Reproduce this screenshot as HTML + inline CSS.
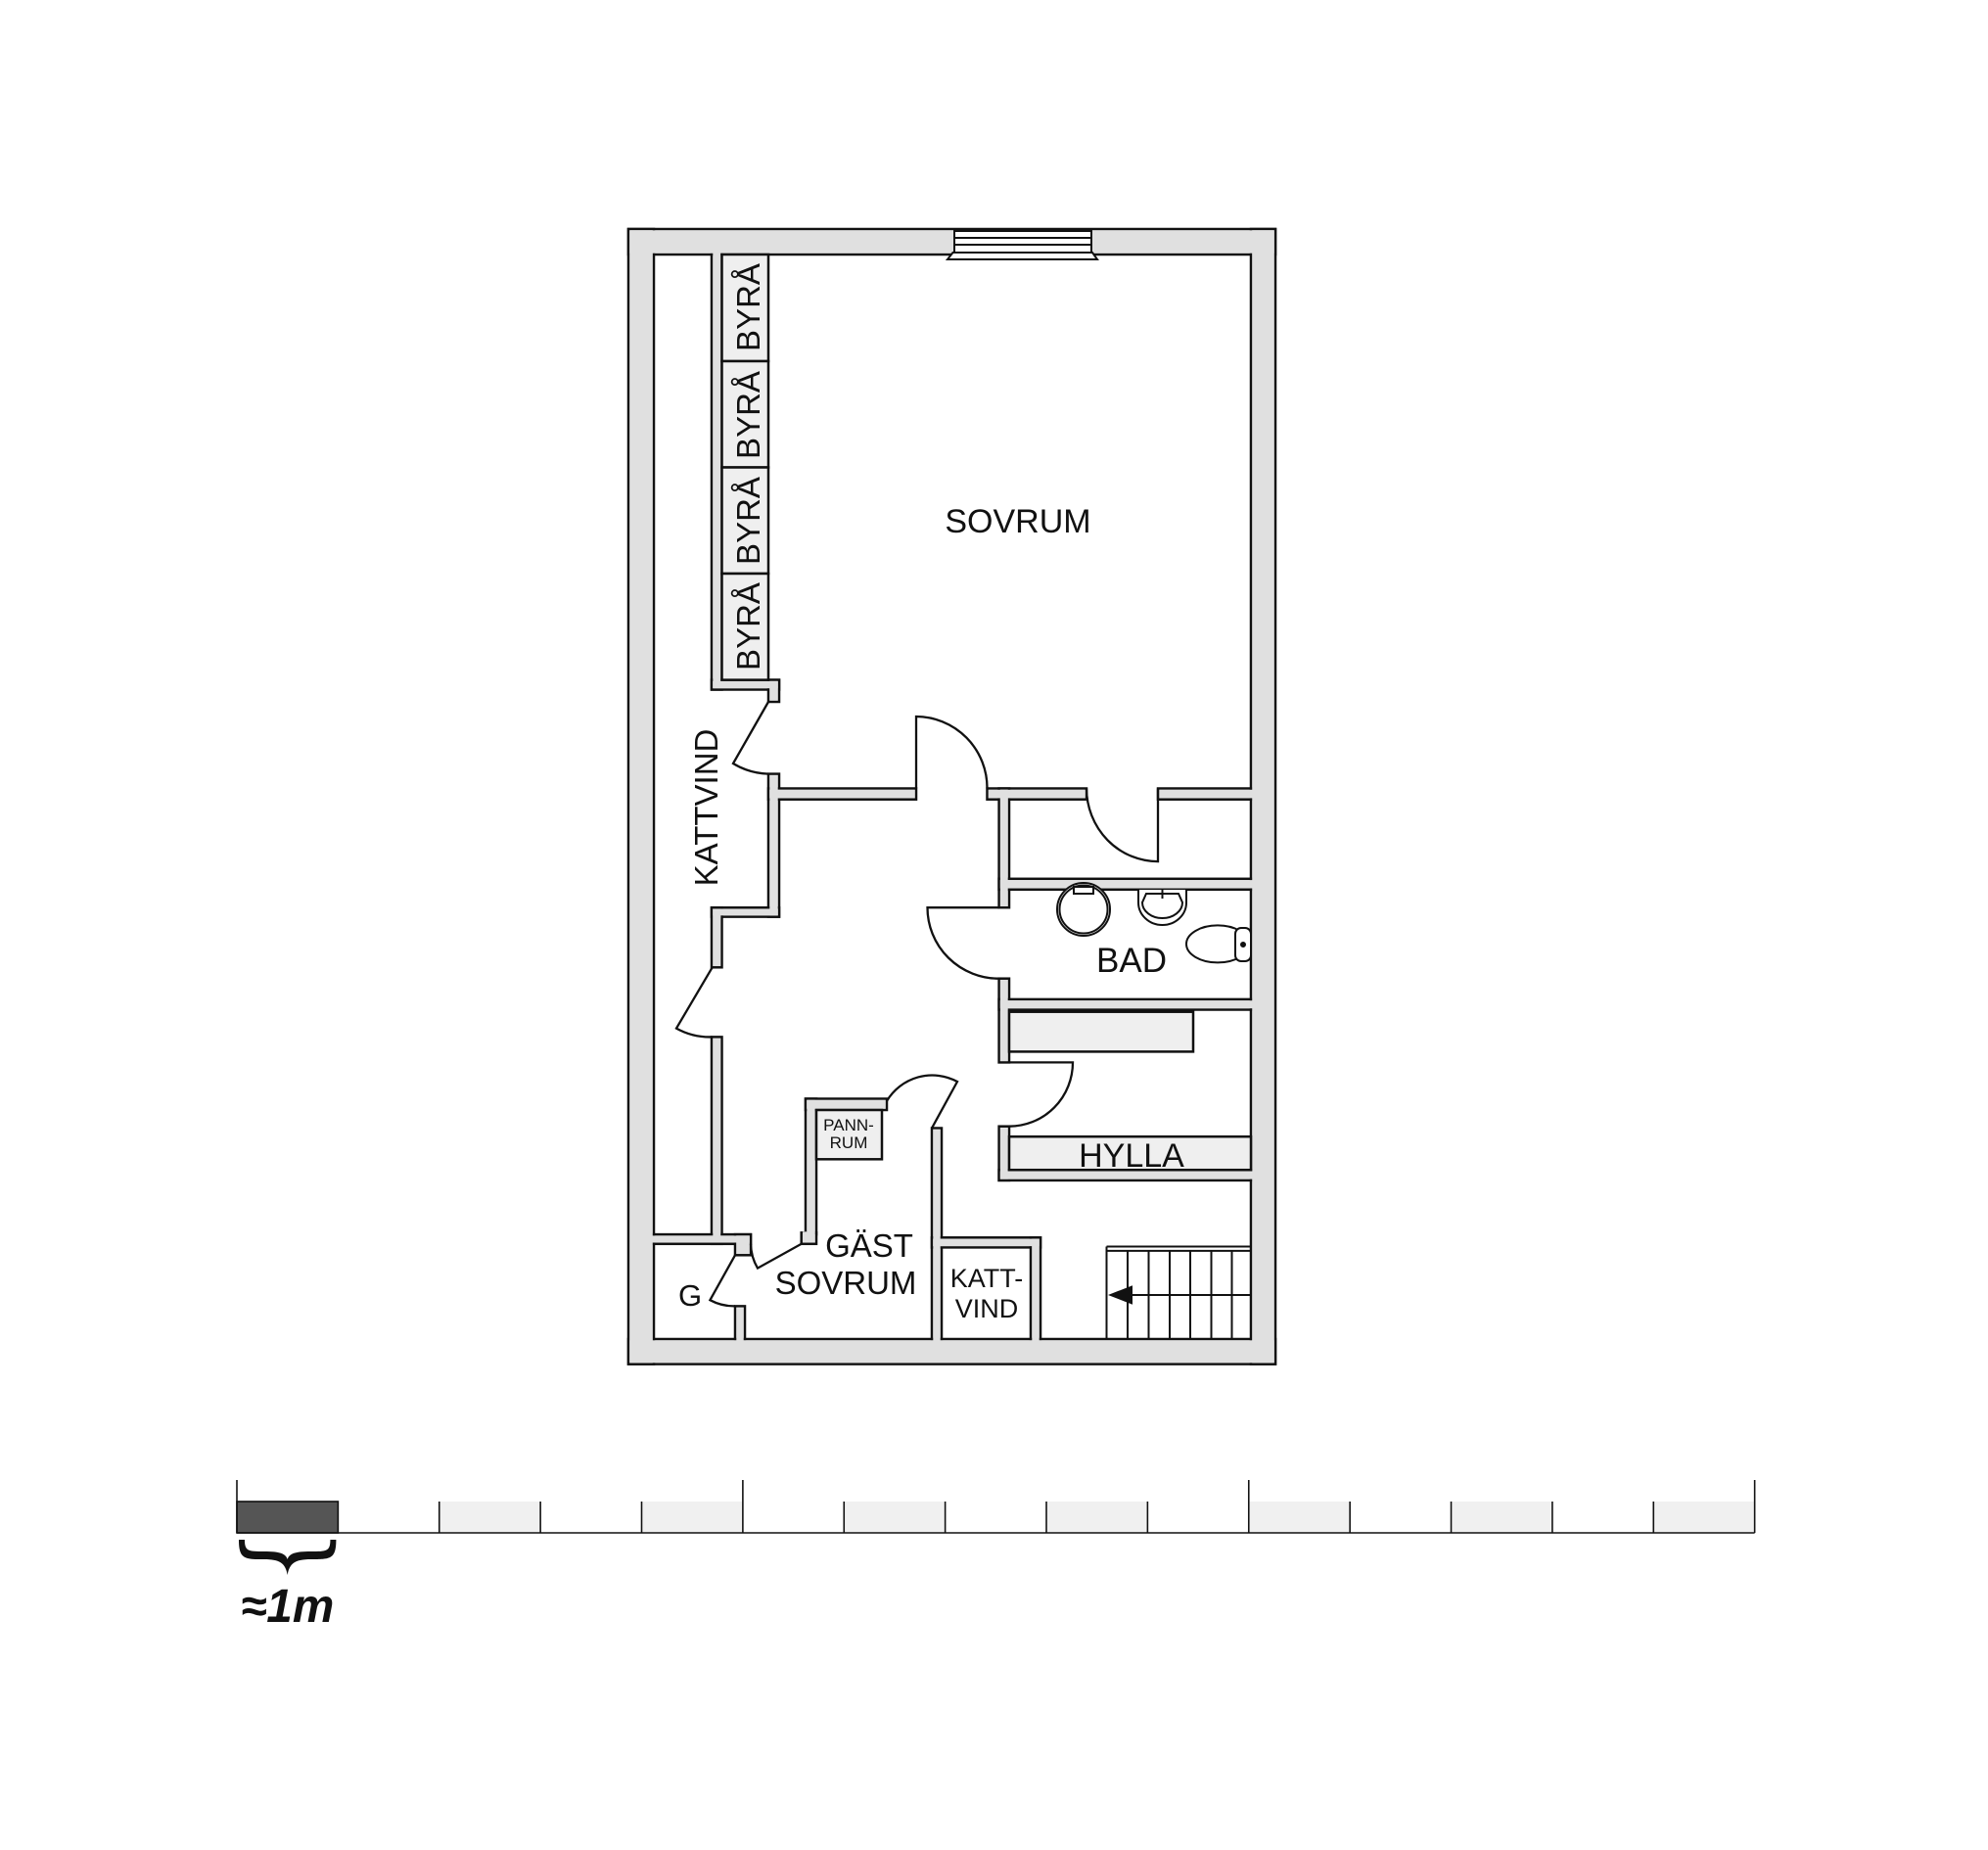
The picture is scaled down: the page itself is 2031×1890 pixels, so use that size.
<!DOCTYPE html>
<html><head><meta charset="utf-8"><style>
html,body{margin:0;padding:0;background:#fff}
svg{display:block}
text{font-family:"Liberation Sans",sans-serif;fill:#111}
</style></head><body>
<svg width="2031" height="1890" viewBox="0 0 2031 1890" xmlns="http://www.w3.org/2000/svg">
<rect x="0" y="0" width="2031" height="1890" fill="#fff"/>
<rect x="668" y="260" width="610" height="1108" fill="#fff"/>
<g fill="#e0e0e0" stroke="#111" stroke-width="2.5">
<rect x="642" y="234" width="661" height="26"/>
<rect x="642" y="1368" width="661" height="25.6"/>
<rect x="642" y="234" width="26" height="1159.6"/>
<rect x="1278" y="234" width="25" height="1159.6"/>
<rect x="727" y="260" width="10.5" height="444.5"/>
<rect x="727" y="694.6" width="69" height="9.9"/>
<rect x="785" y="694.6" width="11" height="22.4"/>
<rect x="785" y="790.6" width="11" height="146"/>
<rect x="727" y="927.2" width="69" height="9.4"/>
<rect x="727" y="927.2" width="10.5" height="61.1"/>
<rect x="727" y="1059.4" width="10.5" height="211.4"/>
<rect x="668" y="1261.1" width="99" height="9.7"/>
<rect x="751" y="1261.1" width="16" height="21.2"/>
<rect x="751" y="1334.4" width="10" height="33.6"/>
<rect x="785" y="805.5" width="151" height="11.2"/>
<rect x="1008.5" y="805.5" width="101.5" height="11.2"/>
<rect x="1183" y="805.5" width="95" height="11.2"/>
<rect x="1020.6" y="805.5" width="10.4" height="121.7"/>
<rect x="1020.6" y="999.7" width="10.4" height="85.7"/>
<rect x="1020.6" y="1150.7" width="10.4" height="55.2"/>
<rect x="1020.6" y="897.8" width="257.4" height="11"/>
<rect x="1020.6" y="1020.9" width="257.4" height="10.6"/>
<rect x="1020.6" y="1195.2" width="257.4" height="10.7"/>
<rect x="823" y="1122.5" width="11" height="138.6"/>
<rect x="818.7" y="1259.3" width="15.3" height="11.5"/>
<rect x="823" y="1122.5" width="83" height="11.5"/>
<rect x="952" y="1152.5" width="10" height="215.5"/>
<rect x="952" y="1264.3" width="111" height="10.1"/>
<rect x="1053" y="1264.3" width="10" height="103.7"/>
</g>
<g fill="#e0e0e0">
<rect x="643.3" y="235.3" width="658.4" height="23.4"/>
<rect x="643.3" y="1369.3" width="658.4" height="23"/>
<rect x="643.3" y="235.3" width="23.4" height="1157"/>
<rect x="1279.3" y="235.3" width="22.4" height="1157"/>
<rect x="728.3" y="258" width="7.9" height="445"/>
<rect x="728.3" y="695.9" width="66.4" height="7.3"/>
<rect x="786.3" y="695.9" width="8.4" height="19.8"/>
<rect x="786.3" y="791.9" width="8.4" height="143.4"/>
<rect x="728.3" y="928.5" width="66.4" height="6.8"/>
<rect x="728.3" y="928.5" width="7.9" height="58.5"/>
<rect x="728.3" y="1060.7" width="7.9" height="208.8"/>
<rect x="666" y="1262.4" width="99.7" height="7.1"/>
<rect x="752.3" y="1262.4" width="13.4" height="18.6"/>
<rect x="752.3" y="1335.7" width="7.4" height="34"/>
<rect x="786.3" y="806.8" width="148.4" height="8.6"/>
<rect x="1009.8" y="806.8" width="98.9" height="8.6"/>
<rect x="1184.3" y="806.8" width="96" height="8.6"/>
<rect x="1021.9" y="806.8" width="7.8" height="119.1"/>
<rect x="1021.9" y="1001" width="7.8" height="83.1"/>
<rect x="1021.9" y="1152" width="7.8" height="52.6"/>
<rect x="1021.9" y="899.1" width="258" height="8.4"/>
<rect x="1021.9" y="1022.2" width="258" height="8"/>
<rect x="1021.9" y="1196.5" width="258" height="8.1"/>
<rect x="824.3" y="1123.8" width="8.4" height="136"/>
<rect x="820" y="1258.3" width="12.7" height="11.2"/>
<rect x="824.3" y="1123.8" width="80.4" height="8.9"/>
<rect x="953.3" y="1153.8" width="7.4" height="216"/>
<rect x="953.3" y="1265.6" width="108.4" height="7.5"/>
<rect x="1054.3" y="1265.6" width="7.4" height="104"/>
</g>
<g stroke="#111" stroke-width="2" fill="#fff">
<rect x="975" y="236" width="140" height="22"/>
<line x1="975" y1="243" x2="1115" y2="243"/>
<line x1="975" y1="250" x2="1115" y2="250"/>
<polygon points="973.5,258 1116,258 1121,265 968,265"/>
</g>
<g fill="#efefef" stroke="#111" stroke-width="2.5">
<rect x="737.5" y="260" width="47.5" height="109"/>
<rect x="737.5" y="369" width="47.5" height="108.5"/>
<rect x="737.5" y="477.5" width="47.5" height="108.5"/>
<rect x="737.5" y="586" width="47.5" height="108.6"/>
<rect x="1031" y="1033.7" width="188" height="40.7"/>
<rect x="1031" y="1161.2" width="247" height="34"/>
<rect x="834" y="1134" width="67" height="50.3"/>
</g>
<g fill="none" stroke="#111" stroke-width="2.3">
<path d="M785,717 L749,780 A73.6,73.6 0 0 0 785,790.6"/>
<path d="M936,805.5 L936,732 A73,73 0 0 1 1008.5,805.5"/>
<path d="M1183,805.5 L1183,880.1 A73,75 0 0 1 1110,805.5"/>
<path d="M1020.6,927.2 L947.5,927.2 A73,72.5 0 0 0 1020.6,999.7"/>
<path d="M1031,1085.4 L1096,1085.4 A65,65.3 0 0 1 1031,1150.7"/>
<path d="M727.7,988.3 L691,1050.6 A71,71 0 0 0 727.7,1059.4"/>
<path d="M751,1282.3 L725.4,1328.2 A52,52 0 0 0 751,1334.4"/>
<path d="M818.7,1270.8 L774,1295.6 A51,51 0 0 1 767,1270.8"/>
<path d="M952,1152.5 L978,1105 A54,54 0 0 0 906,1124.8"/>
</g>
<g stroke="#111" stroke-width="2" fill="none">
<line x1="1130.5" y1="1273.5" x2="1278" y2="1273.5"/>
<line x1="1130.5" y1="1277.9" x2="1278" y2="1277.9"/>
<line x1="1130.5" y1="1273.5" x2="1130.5" y2="1368"/>
<line x1="1152" y1="1277.9" x2="1152" y2="1368"/>
<line x1="1173.5" y1="1277.9" x2="1173.5" y2="1368"/>
<line x1="1195" y1="1277.9" x2="1195" y2="1368"/>
<line x1="1216" y1="1277.9" x2="1216" y2="1368"/>
<line x1="1237.5" y1="1277.9" x2="1237.5" y2="1368"/>
<line x1="1258.5" y1="1277.9" x2="1258.5" y2="1368"/>
<line x1="1150" y1="1323" x2="1278" y2="1323"/>
</g>
<polygon points="1132,1323 1157,1313.2 1157,1332.7" fill="#111"/>
<g stroke="#111" stroke-width="2" fill="#fff">
<circle cx="1107" cy="929" r="27"/>
<circle cx="1107" cy="929" r="24.5"/>
<rect x="1097" y="906" width="20" height="7" fill="none"/>
<path d="M1163,909 L1163,922 A24.5,23 0 0 0 1212,922 L1212,909"/>
<path d="M1167,922 A20.5,16 0 0 0 1208,922 L1204,913 L1171,913 Z"/>
<line x1="1187.5" y1="909" x2="1187.5" y2="918"/>
<ellipse cx="1244" cy="964.4" rx="32" ry="19"/>
<rect x="1262" y="948" width="16" height="34" rx="6"/>
<circle cx="1270" cy="965" r="2" fill="#111"/>
</g>
<text x="1040" y="544" font-size="34" text-anchor="middle">SOVRUM</text>
<g font-size="33" text-anchor="middle">
<text transform="translate(776,314) rotate(-90)">BYRÅ</text>
<text transform="translate(776,424) rotate(-90)">BYRÅ</text>
<text transform="translate(776,532) rotate(-90)">BYRÅ</text>
<text transform="translate(776,640) rotate(-90)">BYRÅ</text>
<text transform="translate(733,825) rotate(-90)">KATTVIND</text>
</g>
<text x="1156" y="993" font-size="35" text-anchor="middle">BAD</text>
<text x="1156" y="1192" font-size="34" text-anchor="middle">HYLLA</text>
<text x="888" y="1284" font-size="33" text-anchor="middle">GÄST</text>
<text x="864" y="1322" font-size="33" text-anchor="middle">SOVRUM</text>
<text x="1008" y="1315" font-size="27" text-anchor="middle">KATT-</text>
<text x="1008" y="1346" font-size="27" text-anchor="middle">VIND</text>
<text x="705" y="1334" font-size="31" text-anchor="middle">G</text>
<text x="867" y="1155" font-size="17" text-anchor="middle">PANN-</text>
<text x="867" y="1173" font-size="17" text-anchor="middle">RUM</text>
<g transform="translate(242,-9) scale(0.994,1) translate(-242,0)">
<g stroke="#111" stroke-width="1.6">
<rect x="242" y="1543" width="104" height="32" fill="#555"/>
<g fill="#f0f0f0" stroke="none">
<rect x="450" y="1543" width="104" height="32"/>
<rect x="658" y="1543" width="104" height="32"/>
<rect x="866" y="1543" width="104" height="32"/>
<rect x="1074" y="1543" width="104" height="32"/>
<rect x="1282" y="1543" width="104" height="32"/>
<rect x="1490" y="1543" width="104" height="32"/>
<rect x="1698" y="1543" width="104" height="32"/>
</g>
<line x1="242" y1="1575" x2="1802" y2="1575"/>
<line x1="242" y1="1521" x2="242" y2="1575"/>
<line x1="762" y1="1521" x2="762" y2="1575"/>
<line x1="1282" y1="1521" x2="1282" y2="1575"/>
<line x1="1802" y1="1521" x2="1802" y2="1575"/>
<line x1="450" y1="1543" x2="450" y2="1575"/>
<line x1="554" y1="1543" x2="554" y2="1575"/>
<line x1="658" y1="1543" x2="658" y2="1575"/>
<line x1="866" y1="1543" x2="866" y2="1575"/>
<line x1="970" y1="1543" x2="970" y2="1575"/>
<line x1="1074" y1="1543" x2="1074" y2="1575"/>
<line x1="1178" y1="1543" x2="1178" y2="1575"/>
<line x1="1386" y1="1543" x2="1386" y2="1575"/>
<line x1="1490" y1="1543" x2="1490" y2="1575"/>
<line x1="1594" y1="1543" x2="1594" y2="1575"/>
<line x1="1698" y1="1543" x2="1698" y2="1575"/>
</g>
<path d="M244,1582 C244,1602 250,1602 270,1602 C286,1602 292,1606 294,1618 C296,1606 302,1602 318,1602 C338,1602 344,1602 344,1582 L338,1582 C338,1594 334,1594 318,1594 C302,1594 296,1596 294,1602 C292,1596 286,1594 270,1594 C254,1594 250,1594 250,1582 Z" fill="#111"/>
<text x="294" y="1666" font-family="Liberation Serif,serif" font-style="italic" font-weight="bold" font-size="48" text-anchor="middle">≈1m</text>
</g>
</svg>
</body></html>
